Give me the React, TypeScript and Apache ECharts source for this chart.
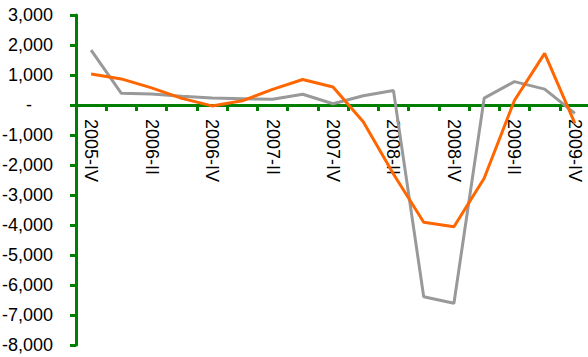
import React, { useEffect, useRef } from "react";
import * as echarts from "echarts";

const categories = [
  "2005-IV", "2006-I", "2006-II", "2006-III", "2006-IV",
  "2007-I", "2007-II", "2007-III", "2007-IV",
  "2008-I", "2008-II", "2008-III", "2008-IV",
  "2009-I", "2009-II", "2009-III", "2009-IV",
];
const orangeValues = [1030, 870, 570, 220, -30, 140, 520, 850, 600, -560, -2300, -3910, -4060, -2440, 150, 1720, -610];
const grayValues = [1830, 390, 370, 290, 230, 210, 190, 360, 40, 310, 480, -6390, -6610, 230, 780, 530, -280];
const yMin = -8000;
const yMax = 3000;
const yStep = 1000;

const FONT = "'Liberation Sans', Arial, sans-serif";
const GREEN = "#008000";

const GRID_TOP = 15;
const GRID_BOTTOM = 12;
const CHART_H = 357;

export default function App() {
  const ref = useRef<HTMLDivElement>(null);
  useEffect(() => {
    if (!ref.current) return;
    const chart = echarts.init(ref.current, null, { renderer: "svg" });
    const plotH = CHART_H - GRID_TOP - GRID_BOTTOM;
    const zeroFromBottom = (plotH * (0 - yMin)) / (yMax - yMin);
    chart.setOption({
      animation: false,
      textStyle: { fontFamily: FONT },
      grid: { left: 76, right: -2, top: GRID_TOP, bottom: GRID_BOTTOM, containLabel: false, outerBoundsMode: "none" },
      xAxis: {
        type: "category",
        data: categories,
        boundaryGap: true,
        position: "bottom",
        offset: -zeroFromBottom,
        axisLine: { onZero: false, lineStyle: { color: GREEN, width: 3 } },
        axisTick: { show: true, interval: 0, length: 6, lineStyle: { color: GREEN, width: 3 } },
        axisLabel: {
          interval: 1,
          rotate: -90,
          margin: 14,
          color: "#000",
          fontSize: 18,
          fontFamily: FONT,
        },
        splitLine: { show: false },
      },
      yAxis: {
        type: "value",
        min: yMin,
        max: yMax,
        interval: yStep,
        axisLine: { show: true, onZero: false, lineStyle: { color: GREEN, width: 3 } },
        axisTick: { show: true, length: 6, lineStyle: { color: GREEN, width: 3 } },
        splitLine: { show: false },
        axisLabel: {
          margin: 23,
          color: "#000",
          fontSize: 18,
          fontFamily: FONT,
          formatter: (v: number) =>
            v === 0 ? "{z|-}" : v.toLocaleString("en-US"),
          rich: {
            z: { fontSize: 18, fontFamily: FONT, color: "#000", padding: [0, 21, 0, 0] },
          },
        },
      },
      series: [
        {
          type: "line",
          data: grayValues,
          symbol: "none",
          lineStyle: { color: "#999999", width: 3 },
          itemStyle: { color: "#999999" },
        },
        {
          type: "line",
          data: orangeValues,
          symbol: "none",
          lineStyle: { color: "#FF6600", width: 3 },
          itemStyle: { color: "#FF6600" },
        },
      ],
    });
    return () => chart.dispose();
  }, []);
  return (
    <div
      ref={ref}
      style={{ position: "fixed", left: 0, top: 0, width: 588, height: 357, background: "#fff" }}
    />
  );
}
